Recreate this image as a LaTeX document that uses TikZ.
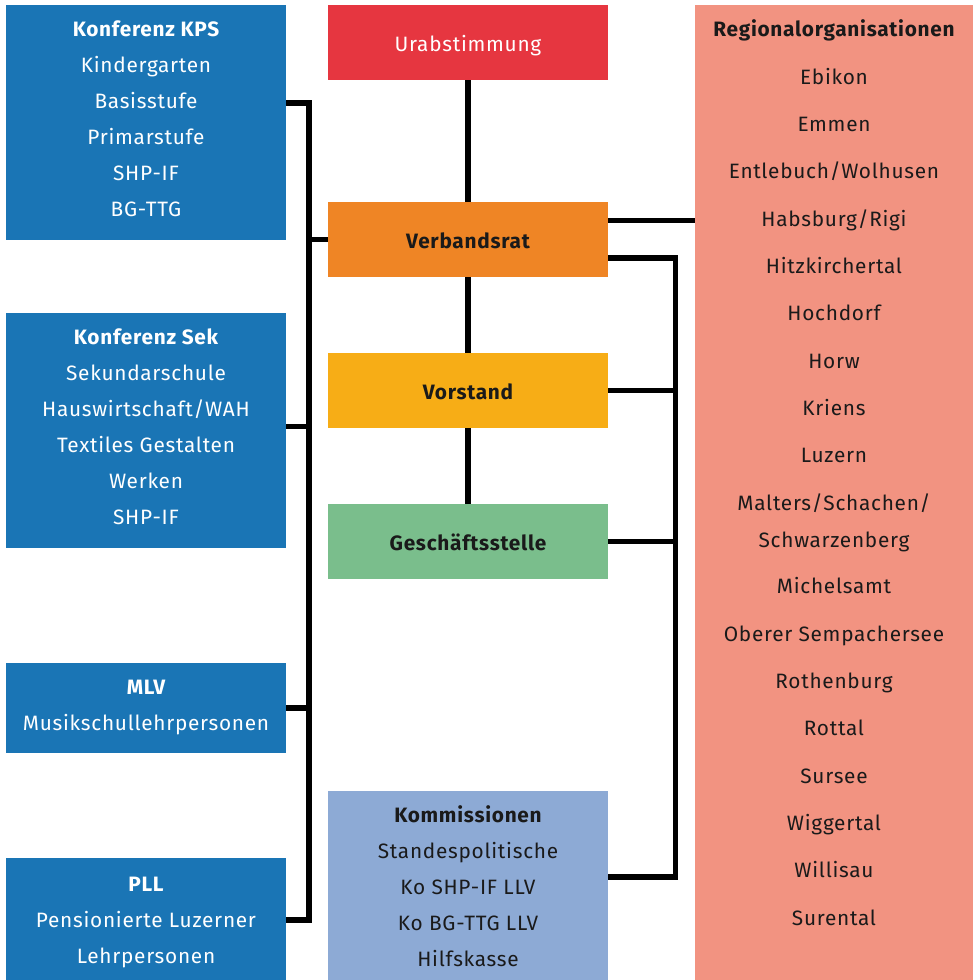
\documentclass[tikz,border=0pt]{standalone}
\usepackage{fontspec}
\setmainfont{Fira Sans}[LetterSpace=3.5]
\definecolor{cblue}{HTML}{1A75B5}
\definecolor{cred}{HTML}{E63640}
\definecolor{corange}{HTML}{EF8525}
\definecolor{cyellow}{HTML}{F7AD16}
\definecolor{cgreen}{HTML}{7ABE8C}
\definecolor{clblue}{HTML}{8DAAD5}
\definecolor{csalmon}{HTML}{F29381}
\definecolor{ctext}{HTML}{1A1A1A}
\begin{document}
\begin{tikzpicture}[x=1pt,y=-1pt,
  box/.style={anchor=north west,inner sep=0pt,outer sep=0pt,minimum width=280pt,draw=none},
  txt/.style={anchor=base,inner sep=0pt,font=\fontsize{20.8}{24}\selectfont},
  btxt/.style={txt,font=\fontsize{20.8}{24}\selectfont\bfseries},
  conn/.style={draw=black,line width=5.3pt,line join=miter,line cap=butt}]
\useasboundingbox (0,0) rectangle (979,980);
\fill[white] (0,0) rectangle (979,980);
% left boxes
\node[box,fill=cblue,minimum height=235pt] (kps) at (6,5) {};
\node[box,fill=cblue,minimum height=235pt] (sek) at (6,313) {};
\node[box,fill=cblue,minimum height=90pt] (mlv) at (6,663) {};
\node[box,fill=cblue,minimum height=122pt] (pll) at (6,858) {};
% middle boxes
\node[box,fill=cred,minimum height=75pt] (urab) at (328,5) {};
\node[box,fill=corange,minimum height=75pt] (verb) at (328,202) {};
\node[box,fill=cyellow,minimum height=75pt] (vor) at (328,353) {};
\node[box,fill=cgreen,minimum height=75pt] (ges) at (328,504) {};
\node[box,fill=clblue,minimum height=189pt] (kom) at (328,791) {};
% right box
\node[box,fill=csalmon,minimum width=278pt,minimum height=975pt] (reg) at (695,5) {};
% left texts
\node[btxt,text=white] (lh1) at (146,28+8.3) {Konferenz KPS};
\node[btxt,text=white] (lh2) at (146,336+8.3) {Konferenz Sek};
\node[btxt,text=white] (lh3) at (146,686+8.3) {MLV};
\node[btxt,text=white] (lh4) at (146,883+8.3) {PLL};
\foreach \yy/\tt [count=\i] in {64/{Kindergarten},100/{Basisstufe},136/{Primarstufe},172/{SHP-IF},208/{BG-TTG},
  372/{Sekundarschule},408/{Hauswirtschaft/WAH},444/{Textiles Gestalten},480/{Werken},516/{SHP-IF},
  722/{Musikschullehrpersonen},919/{Pensionierte Luzerner},955/{Lehrpersonen}}
  {\node[txt,text=white] (lt\i) at (146,\yy+8.3) {\tt};}
% middle texts
\node[txt,text=white] (turab) at (468,43.5+8) {Urabstimmung};
\node[btxt,text=ctext] (tverb) at (468,240+8) {Verbandsrat};
\node[btxt,text=ctext] (tvor) at (468,391+8) {Vorstand};
\node[btxt,text=ctext] (tges) at (468,542.5+8) {Geschäftsstelle};
\node[btxt,text=ctext] (tkom) at (468,814+8.3) {Kommissionen};
\foreach \yy/\tt [count=\i] in {850/{Standespolitische},886/{Ko SHP-IF LLV},922/{Ko BG-TTG LLV},958/{Hilfskasse}}
  {\node[txt,text=ctext] (tk\i) at (468,\yy+8.3) {\tt};}
% right texts
\node[btxt,text=ctext] (treg) at (834,28+8.3) {Regionalorganisationen};
\foreach \yy/\tt [count=\i] in {76/{Ebikon},123/{Emmen},170/{Entlebuch/Wolhusen},218/{Habsburg/Rigi},265/{Hitzkirchertal},
  312/{Hochdorf},360/{Horw},407/{Kriens},454/{Luzern},502/{Malters/Schachen/},539/{Schwarzenberg},585/{Michelsamt},
  633/{Oberer Sempachersee},680/{Rothenburg},727/{Rottal},775/{Sursee},822/{Wiggertal},869/{Willisau},917/{Surental}}
  {\node[txt,text=ctext] (tr\i) at (834,\yy+8.3) {\tt};}
% connectors left
\coordinate (ltop) at (309,103);
\coordinate (lbot) at (309,920);
\coordinate (lsek) at (309,426.5);
\coordinate (lmlv) at (309,708);
\coordinate (lverb) at (309,239.5);
\draw[conn] (kps.east |- ltop) -- (ltop) -- (lbot) -- (pll.east |- lbot);
\draw[conn] (sek.east |- lsek) -- (lsek);
\draw[conn] (mlv.east |- lmlv) -- (lmlv);
\draw[conn] (lverb) -- (verb.west |- lverb);
% central
\draw[conn] (urab.south) -- (verb.north);
\draw[conn] (verb.south) -- (vor.north);
\draw[conn] (vor.south) -- (ges.north);
% right
\coordinate (rreg) at (650,220.5);
\coordinate (rtop) at (675.5,258);
\coordinate (rvor) at (675.5,390.5);
\coordinate (rges) at (675.5,541.5);
\coordinate (rbot) at (675.5,877);
\draw[conn] (verb.east |- rreg) -- (reg.west |- rreg);
\draw[conn] (verb.east |- rtop) -- (rtop) -- (rbot) -- (kom.east |- rbot);
\draw[conn] (vor.east |- rvor) -- (rvor);
\draw[conn] (ges.east |- rges) -- (rges);
\end{tikzpicture}
\end{document}
